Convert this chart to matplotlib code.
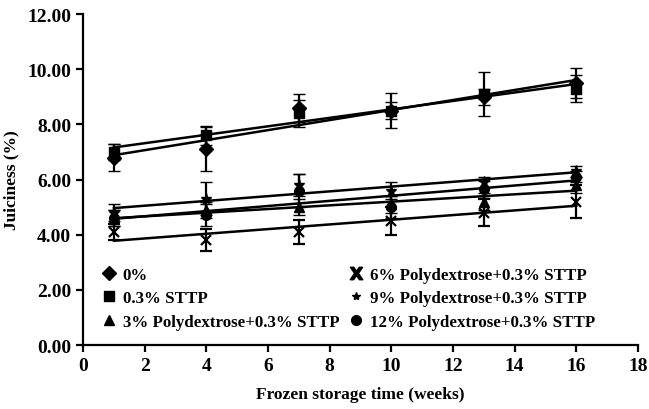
import matplotlib
matplotlib.use("Agg")
import matplotlib.pyplot as plt
from matplotlib.lines import Line2D
import numpy as np

plt.rcParams['font.family'] = ['Liberation Serif', 'DejaVu Serif']
plt.rcParams['font.weight'] = 'bold'

weeks = [1, 4, 7, 10, 13, 16]
labels = ["0%", "0.3% STTP", "3% Polydextrose+0.3% STTP",
          "6% Polydextrose+0.3% STTP", "9% Polydextrose+0.3% STTP",
          "12% Polydextrose+0.3% STTP"]
v0 = [6.8, 7.1, 8.6, 8.5, 9.0, 9.5]
e0 = [0.5, 0.8, 0.5, 0.3, 0.3, 0.55]
v03 = [7.0, 7.6, 8.4, 8.5, 9.1, 9.3]
e03 = [0.3, 0.35, 0.5, 0.63, 0.8, 0.5]
v3 = [4.6, 4.9, 5.0, 5.1, 5.2, 5.8]
e3 = [0.3, 0.3, 0.3, 0.3, 0.3, 0.3]
v6 = [4.1, 3.8, 4.1, 4.5, 4.8, 5.2]
e6 = [0.3, 0.4, 0.45, 0.5, 0.5, 0.6]
v9 = [4.8, 5.3, 5.8, 5.6, 5.9, 6.3]
e9 = [0.3, 0.6, 0.4, 0.3, 0.2, 0.2]
v12 = [4.6, 4.7, 5.6, 5.0, 5.65, 6.1]
e12 = [0.3, 0.4, 0.6, 0.4, 0.3, 0.2]

series = [(v0, e0, 'D', 7), (v03, e03, 's', 7), (v3, e3, '^', 7),
          (v6, e6, 'x', 7), (v9, e9, '*', 8), (v12, e12, 'o', 7)]

fig = plt.figure(figsize=(6.49, 4.10), dpi=100)
ax = fig.add_axes([0.128, 0.156, 0.855, 0.807])

x = np.array(weeks, dtype=float)
for vals, errs, mk, ms in series:
    ax.errorbar(x, vals, yerr=errs, fmt=mk, color='black', ms=ms,
                mew=1.6 if mk == 'x' else 1, ecolor='black', elinewidth=1.6,
                capsize=4, capthick=1.6, zorder=3)
    k, b = np.polyfit(x, vals, 1)
    ax.plot(x, k * x + b, color='black', lw=1.8, zorder=2)

ax.set_xlim(0, 18)
ax.set_ylim(0, 12)
ax.set_xticks(range(0, 19, 2))
ax.set_yticks(np.arange(0, 12.1, 2))
ax.set_yticklabels([f"{t:.2f}" for t in np.arange(0, 12.1, 2)])
for s in ['top', 'right']:
    ax.spines[s].set_visible(False)
for s in ['left', 'bottom']:
    ax.spines[s].set_linewidth(1.6)
ax.tick_params(direction='out', length=5, width=1.6, labelsize=14)
ax.set_xlabel("Frozen storage time (weeks)", fontsize=12.5, fontweight='bold',
              labelpad=9)
ax.set_ylabel("Juiciness (%)", fontsize=12.5, fontweight='bold', labelpad=6)

handles = []
for (vals, errs, mk, ms), lab in zip(series, labels):
    if mk == 'x':
        h = Line2D([], [], linestyle='none', marker='$\\mathbf{X}$', color='black', ms=9)
    elif mk == '*':
        h = Line2D([], [], linestyle='none', marker='*', color='black', ms=6)
    else:
        h = Line2D([], [], linestyle='none', marker=mk, color='black', ms=7)
    handles.append(h)
leg = ax.legend(handles, labels, ncol=2, frameon=False, loc='lower left',
                bbox_to_anchor=(0.01, 0.01), fontsize=12.2, handlelength=1.0,
                handletextpad=0.3, columnspacing=0.5, labelspacing=0.45,
                borderpad=0.2)

fig.savefig("out.png", dpi=100)
